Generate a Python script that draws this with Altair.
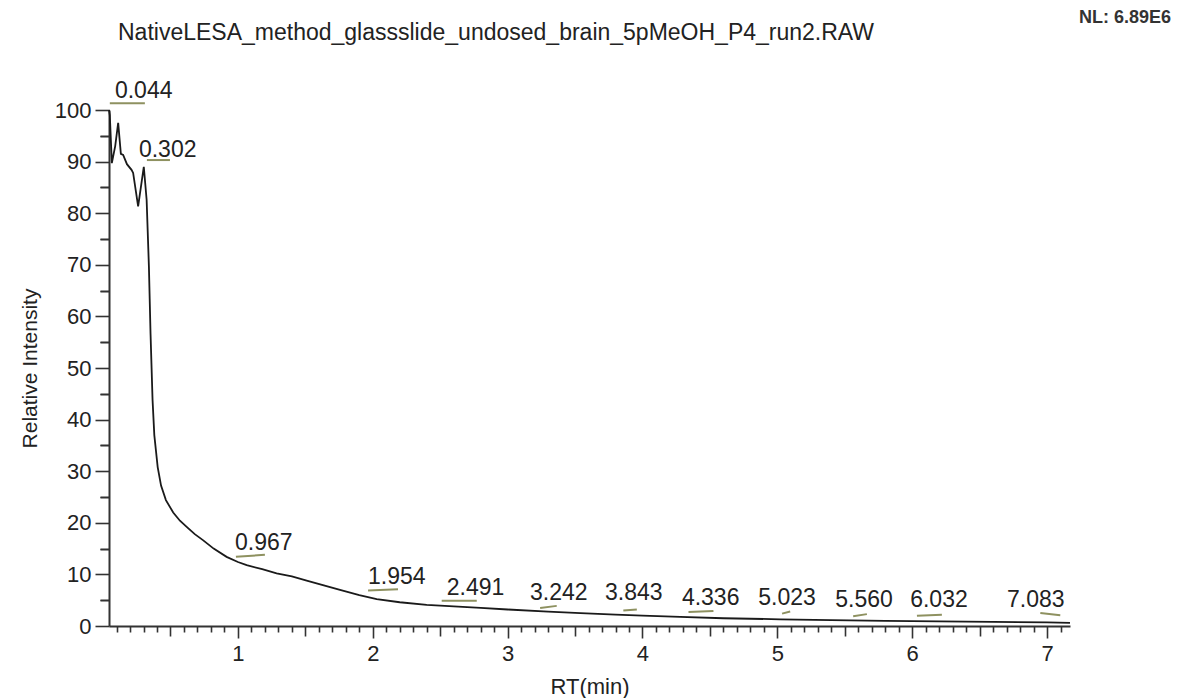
import altair as alt
import pandas as pd

# ---- data ----
rt = [0.044, 0.050, 0.065, 0.090, 0.112, 0.132, 0.149, 0.177, 0.211, 0.223, 0.260, 0.302,
      0.323, 0.340, 0.352, 0.367, 0.380, 0.405, 0.430, 0.466, 0.520, 0.570, 0.620, 0.680,
      0.743, 0.820, 0.916, 1.000, 1.065, 1.180, 1.287, 1.400, 1.510, 1.630, 1.757, 1.900,
      2.029, 2.200, 2.400, 2.600, 2.800, 3.000, 3.300, 3.540, 3.800, 4.000, 4.280, 4.600,
      5.020, 5.400, 5.800, 6.200, 6.600, 7.000, 7.170]
intensity = [100.0, 99.0, 89.7, 93.0, 97.5, 91.5, 91.3, 89.5, 88.4, 87.8, 81.3, 89.0,
             82.6, 69.6, 56.7, 43.8, 37.0, 30.8, 27.2, 24.4, 22.0, 20.4, 19.2, 17.8,
             16.6, 15.0, 13.4, 12.4, 11.8, 11.0, 10.2, 9.6, 8.8, 7.9, 7.0, 6.0,
             5.2, 4.6, 4.1, 3.8, 3.5, 3.2, 2.8, 2.5, 2.2, 2.0, 1.75, 1.5,
             1.3, 1.15, 1.0, 0.9, 0.8, 0.7, 0.6]

peak_labels = ["0.044", "0.302", "0.967", "1.954", "2.491", "3.242", "3.843",
               "4.336", "5.023", "5.560", "6.032", "7.083"]
label_x = [0.088, 0.266, 0.978, 1.965, 2.549, 3.166, 3.722, 4.292, 4.858, 5.429, 5.985, 6.703]
label_y = [103.6, 92.2, 16.1, 9.4, 7.3, 6.3, 6.3, 5.4, 5.4, 5.0, 5.0, 5.0]
seg_x1 = [0.050, 0.325, 0.985, 1.965, 2.511, 3.241, 3.858, 4.341, 5.035, 5.562, 6.035, 6.950]
seg_x2 = [0.310, 0.496, 1.200, 2.187, 2.771, 3.364, 3.958, 4.526, 5.095, 5.664, 6.220, 7.098]
seg_y1 = [101.3, 90.3, 13.4, 6.9, 4.9, 3.5, 3.0, 2.7, 2.4, 1.9, 2.0, 2.5]
seg_y2 = [101.3, 90.3, 13.8, 7.1, 4.9, 3.9, 3.2, 2.9, 2.8, 2.3, 2.2, 2.1]

x_major = [1, 2, 3, 4, 5, 6, 7]
x_half = [0.5, 1.5, 2.5, 3.5, 4.5, 5.5, 6.5]
x_minor = [round(i * 0.1, 1) for i in range(1, 72) if i % 5 != 0]
y_major = list(range(0, 101, 10))
y_minor = list(range(5, 100, 10))

title_text = "NativeLESA_method_glassslide_undosed_brain_5pMeOH_P4_run2.RAW"
nl_text = "NL: 6.89E6"

curve = pd.DataFrame({"t": rt, "v": intensity})
peaks = pd.DataFrame({"label": peak_labels, "lx": label_x, "ly": label_y,
                      "x1": seg_x1, "x2": seg_x2, "y1": seg_y1, "y2": seg_y2})

FONT = "Liberation Sans"
AX = "#333333"
W, H = 961, 516

xs = alt.Scale(domain=[0.044, 7.17], nice=False, zero=False)
ys = alt.Scale(domain=[0, 100], nice=False)

major_x = alt.Axis(values=x_major, tickSize=12, tickWidth=1.6, tickColor=AX,
                   domainColor=AX, domainWidth=2, labelFontSize=22, labelFont=FONT,
                   labelColor="#222222", labelPadding=5, grid=False, orient="bottom",
                   title="RT(min)", titleFont=FONT, titleFontSize=22,
                   titleFontWeight="normal", titleColor="#222222", titlePadding=12,
                   format="d")
major_y = alt.Axis(values=y_major, tickSize=14, tickWidth=1.6, tickColor=AX,
                   domainColor=AX, domainWidth=2, labelFontSize=22, labelFont=FONT,
                   labelColor="#222222", labelPadding=4, grid=False, orient="left",
                   title="Relative Intensity", titleFont=FONT, titleFontSize=21,
                   titleFontWeight="normal", titleColor="#222222", titlePadding=14)


def tick_axis(vals, size, orient):
    return alt.Axis(values=vals, tickSize=size, tickWidth=1.6, tickColor=AX,
                    domain=False, labels=False, title=None, grid=False, orient=orient)


line = alt.Chart(curve).mark_line(color="#1a1a1a", strokeWidth=1.8, clip=False).encode(
    x=alt.X("t:Q", scale=xs, axis=major_x),
    y=alt.Y("v:Q", scale=ys, axis=major_y),
)

half_layer = alt.Chart(curve).mark_line(opacity=0).encode(
    x=alt.X("t:Q", scale=xs, axis=tick_axis(x_half, 10, "bottom")),
    y=alt.Y("v:Q", scale=ys, axis=tick_axis(y_minor, 9, "left")),
)

minor_layer = alt.Chart(curve).mark_line(opacity=0).encode(
    x=alt.X("t:Q", scale=xs, axis=tick_axis(x_minor, 6, "bottom")),
    y=alt.Y("v:Q", scale=ys, axis=tick_axis(y_minor, 9, "left")),
)

segs = alt.Chart(peaks).mark_rule(color="#8e9160", strokeWidth=2, clip=False).encode(
    x=alt.X("x1:Q", scale=xs, axis=None),
    x2="x2:Q",
    y=alt.Y("y1:Q", scale=ys, axis=None),
    y2="y2:Q",
)

labels = alt.Chart(peaks).mark_text(
    align="left", baseline="middle", font=FONT, fontSize=23, color="#222222", clip=False
).encode(
    x=alt.X("lx:Q", scale=xs, axis=None),
    y=alt.Y("ly:Q", scale=ys, axis=None),
    text="label:N",
)

nl = alt.Chart(pd.DataFrame({"s": [nl_text]})).mark_text(
    align="right", baseline="middle", font=FONT, fontSize=18, fontWeight="bold",
    color="#333333"
).encode(x=alt.value(W + 101), y=alt.value(-92), text="s:N")

chart = alt.layer(line, half_layer, minor_layer, segs, labels, nl).resolve_axis(
    x="independent", y="independent"
).properties(
    width=W, height=H,
    autosize=alt.AutoSizeParams(type="none"),
    padding={"left": 109, "top": 110, "right": 113, "bottom": 72},
    title=alt.TitleParams(title_text, anchor="start", frame="group", font=FONT,
                          fontSize=23, fontWeight="normal", color="#222222",
                          dx=9, dy=36, offset=0),
).configure(
    background="white",
    view=alt.ViewConfig(stroke="transparent", strokeWidth=0),
)

chart.save("out.html", embed_options={"renderer": "svg", "actions": False})
